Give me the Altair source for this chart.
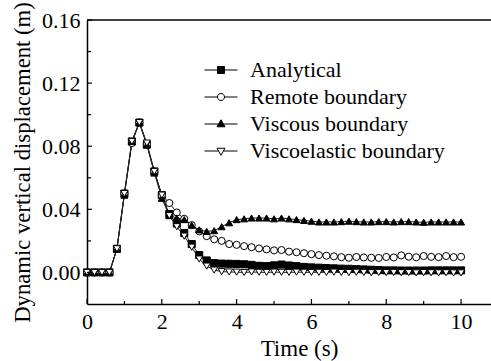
import altair as alt
import pandas as pd

time = [0.0, 0.2, 0.4, 0.6, 0.8, 1.0, 1.2, 1.4, 1.6, 1.8,
        2.0, 2.2, 2.4, 2.6, 2.8, 3.0, 3.2, 3.4, 3.6, 3.8,
        4.0, 4.2, 4.4, 4.6, 4.8, 5.0, 5.2, 5.4, 5.6, 5.8,
        6.0, 6.2, 6.4, 6.6, 6.8, 7.0, 7.2, 7.4, 7.6, 7.8,
        8.0, 8.2, 8.4, 8.6, 8.8, 9.0, 9.2, 9.4, 9.6, 9.8, 10.0]

analytical = [0.0, 0.0, 0.0, 0.0, 0.015, 0.050, 0.083, 0.095, 0.081, 0.064,
              0.049, 0.037, 0.031, 0.025, 0.018, 0.011, 0.0076, 0.0059, 0.0056, 0.0055,
              0.0054, 0.0052, 0.0048, 0.0042, 0.0040, 0.0045, 0.0050, 0.0044, 0.0040, 0.0035,
              0.0032, 0.0030, 0.0028, 0.0026, 0.0024, 0.0023, 0.0021, 0.0019, 0.0017, 0.0015,
              0.0013, 0.0013, 0.0012, 0.0012, 0.0012, 0.0012, 0.0013, 0.0013, 0.0013, 0.0013, 0.0013]

remote = [0.0, 0.0, 0.0, 0.0, 0.015, 0.050, 0.082, 0.095, 0.081, 0.064,
          0.049, 0.044, 0.038, 0.034, 0.030, 0.026, 0.023, 0.021, 0.020, 0.018,
          0.0175, 0.0167, 0.016, 0.0152, 0.0146, 0.014, 0.0142, 0.0132, 0.0128, 0.0122,
          0.0116, 0.011, 0.0106, 0.0102, 0.0097, 0.0093, 0.0098, 0.0095, 0.0093, 0.0092,
          0.0098, 0.0095, 0.0108, 0.0100, 0.0096, 0.0104, 0.0099, 0.0097, 0.0104, 0.0097, 0.0099]

viscous = [0.0, 0.0, 0.0, 0.0, 0.015, 0.049, 0.083, 0.095, 0.081, 0.063,
           0.047, 0.036, 0.0345, 0.0335, 0.030, 0.027, 0.026, 0.0265, 0.029, 0.0315,
           0.0335, 0.034, 0.0345, 0.0345, 0.0345, 0.034, 0.0345, 0.034, 0.0335, 0.033,
           0.0325, 0.032, 0.032, 0.032, 0.0322, 0.0325, 0.0322, 0.032, 0.032, 0.0322,
           0.0322, 0.032, 0.0322, 0.0322, 0.032, 0.0318, 0.032, 0.032, 0.032, 0.032, 0.032]

viscoelastic = [0.0, 0.0, 0.0, 0.0, 0.015, 0.050, 0.083, 0.095, 0.082, 0.064,
                0.049, 0.036, 0.029, 0.023, 0.016, 0.0085, 0.004, 0.0015, 0.0005, 0.0003,
                0.0002, 0.0, 0.0003, 0.0001, 0.0, 0.0002, 0.0001, 0.0, 0.0002, 0.0001,
                0.0, 0.0001, 0.0, 0.0002, 0.0, -0.0001, 0.0001, 0.0, -0.0002, 0.0,
                -0.0001, 0.0, -0.0002, -0.0001, -0.0003, -0.0001, -0.0002, -0.0003, -0.0002, -0.0003, -0.0003]

series_names = ["Analytical", "Remote boundary", "Viscous boundary", "Viscoelastic boundary"]
series_values = [analytical, remote, viscous, viscoelastic]
point_shapes = ["square", "circle", "triangle-up", "triangle-down"]
point_fills = ["black", "white", "black", "white"]

x_major = [0, 2, 4, 6, 8, 10]
x_minor = [1, 3, 5, 7, 9]
y_major = [0.0, 0.04, 0.08, 0.12, 0.16]
y_minor = [0.02, 0.06, 0.10, 0.14]

legend_paths = [
    "M-3.3,0H-0.7M0.7,0H3.3M-0.7,-0.7H0.7V0.7H-0.7Z",
    "M-3.3,0H-0.7M0.7,0H3.3M0.7,0A0.7,0.7,0,1,1,-0.7,0A0.7,0.7,0,1,1,0.7,0Z",
    "M-3.3,0H-0.45M0.45,0H3.3M0,-0.85L0.8,0.55L-0.8,0.55Z",
    "M-3.3,0H-0.45M0.45,0H3.3M0,0.85L0.8,-0.55L-0.8,-0.55Z",
]

rows = []
for name, vals in zip(series_names, series_values):
    for t, v in zip(time, vals):
        rows.append({"series": name, "t": t, "v": v})
df = pd.DataFrame(rows)

W, H = 404, 284
FONT = "Liberation Serif"
xs = alt.Scale(domain=[0, 10.8], nice=False, zero=False)
ys = alt.Scale(domain=[-0.02, 0.16], nice=False, zero=False)

x_axis = alt.Axis(values=x_major, format="d", title="Time (s)", ticks=False, tickSize=0,
                  grid=False, labelPadding=7, labelFlush=False, labelOverlap=False,
                  labelFontSize=22, titleFontSize=23,
                  domainColor="black", domainWidth=1.5,
                  titleX=212, titleY=44, titleAlign="center", titleBaseline="middle")
y_axis = alt.Axis(values=y_major, format=".2f", title="Dynamic vertical displacement (m)",
                  ticks=False, tickSize=0, grid=False, labelPadding=7, labelFlush=False,
                  labelOverlap=False, labelFontSize=22, titleFontSize=22.7,
                  domainColor="black", domainWidth=1.5,
                  titleAngle=-90, titleX=-65, titleY=142, titleAlign="center",
                  titleBaseline="middle")

lines = alt.Chart(df).mark_line(color="#222", strokeWidth=1).encode(
    x=alt.X("t:Q", scale=xs, axis=x_axis),
    y=alt.Y("v:Q", scale=ys, axis=y_axis),
    detail="series:N",
)

points = alt.Chart(df).mark_point(filled=True, stroke="black", strokeWidth=1, size=50,
                                  opacity=1).encode(
    x=alt.X("t:Q", scale=xs, axis=x_axis),
    y=alt.Y("v:Q", scale=ys, axis=y_axis),
    shape=alt.Shape("series:N", scale=alt.Scale(domain=series_names, range=point_shapes), legend=None),
    fill=alt.Fill("series:N", scale=alt.Scale(domain=series_names, range=point_fills), legend=None),
)

xt_major = alt.Chart(pd.DataFrame({"t": x_major})).mark_rule(color="black", strokeWidth=1.2).encode(
    x=alt.X("t:Q", scale=xs, axis=x_axis), y=alt.value(H), y2=alt.value(H - 5))
xt_minor = alt.Chart(pd.DataFrame({"t": x_minor})).mark_rule(color="black", strokeWidth=1.2).encode(
    x=alt.X("t:Q", scale=xs, axis=x_axis), y=alt.value(H), y2=alt.value(H - 3))
yt_major = alt.Chart(pd.DataFrame({"v": y_major})).mark_rule(color="black", strokeWidth=1.2).encode(
    y=alt.Y("v:Q", scale=ys, axis=y_axis), x=alt.value(0), x2=alt.value(5))
yt_minor = alt.Chart(pd.DataFrame({"v": y_minor})).mark_rule(color="black", strokeWidth=1.2).encode(
    y=alt.Y("v:Q", scale=ys, axis=y_axis), x=alt.value(0), x2=alt.value(4))

top_border = alt.Chart(pd.DataFrame({"a": [0]})).mark_rule(color="black", strokeWidth=1.5).encode(
    x=alt.value(0), x2=alt.value(W), y=alt.value(0))

leg = alt.Legend(title=None, orient="none", legendX=123, legendY=39, symbolSize=100,
                 labelFontSize=22, labelFont=FONT, labelColor="black", labelOffset=18,
                 labelLimit=0, rowPadding=5, padding=0, symbolStrokeColor="black",
                 symbolStrokeWidth=1, symbolOpacity=1)

legend_df = pd.DataFrame({"entry": series_names, "t": [-5.0] * 4, "v": [-1.0] * 4})
legend_layer = alt.Chart(legend_df).mark_point(filled=True, stroke="black", strokeWidth=1,
                                               size=100, clip=True, opacity=1).encode(
    x=alt.X("t:Q", scale=xs, axis=x_axis),
    y=alt.Y("v:Q", scale=ys, axis=y_axis),
    shape=alt.Shape("entry:N", scale=alt.Scale(domain=series_names, range=legend_paths), legend=leg),
    fill=alt.Fill("entry:N", scale=alt.Scale(domain=series_names, range=point_fills), legend=leg),
    stroke=alt.Stroke("entry:N", scale=alt.Scale(domain=series_names, range=["black"] * 4), legend=leg),
)

chart = alt.layer(lines, points, xt_major, xt_minor, yt_major, yt_minor, top_border, legend_layer).resolve_scale(
    shape="independent", fill="independent", stroke="independent"
).properties(
    width=W, height=H,
    autosize=alt.AutoSizeParams(type="none"),
    padding={"left": 87, "top": 20, "right": 0, "bottom": 57},
    background="white",
).configure_view(stroke=None).configure_axis(
    labelFont=FONT, titleFont=FONT,
    labelColor="black", titleColor="black", titleFontWeight="normal",
).configure_legend(labelFont=FONT)

chart.save("out.html", embed_options={"renderer": "svg", "actions": False})
